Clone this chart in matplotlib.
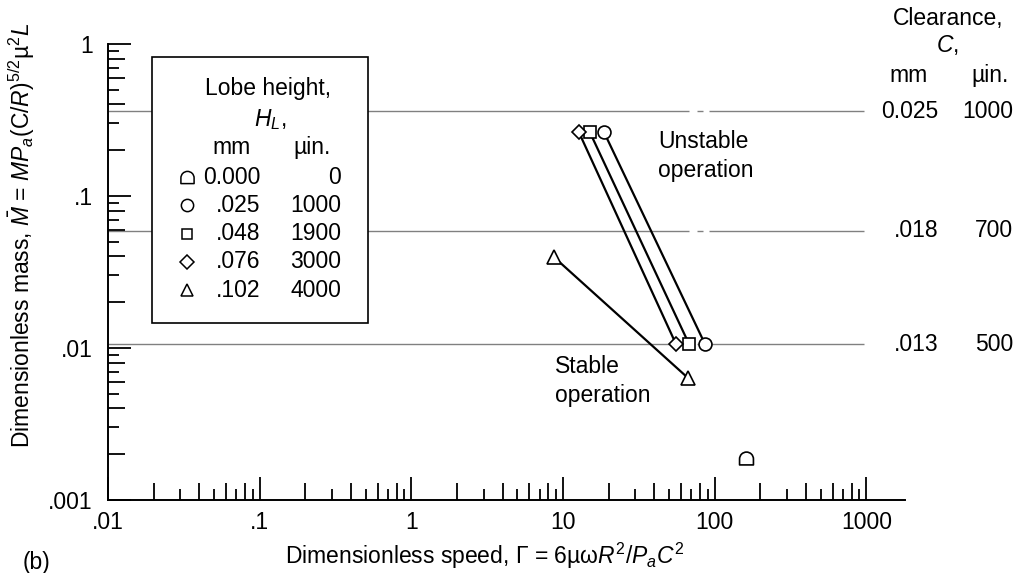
import numpy as np
import matplotlib
matplotlib.use("Agg")
import matplotlib.pyplot as plt
import matplotlib.transforms as mtransforms
from matplotlib.path import Path
from matplotlib.patches import Rectangle
from matplotlib.ticker import FixedLocator, FixedFormatter, NullFormatter

plt.rcParams['font.family'] = ['Liberation Sans', 'DejaVu Sans']
plt.rcParams['mathtext.fontset'] = 'custom'
plt.rcParams['mathtext.rm'] = 'Liberation Sans'
plt.rcParams['mathtext.it'] = 'Liberation Sans:italic'
plt.rcParams['font.size'] = 16.5

# lobe height (legend rows)
lobe_mm = ['0.000', '.025', '.048', '.076', '.102']
lobe_uin = ['0', '1000', '1900', '3000', '4000']

# dimensionless speed / mass (unstable end, stable end)
speed_000 = [161]
mass_000 = [0.00189]
speed_025 = [18.6, 86.4]
mass_025 = [0.264, 0.0106]
speed_048 = [15.0, 67.8]
mass_048 = [0.264, 0.0106]
speed_076 = [12.7, 55.6]
mass_076 = [0.264, 0.0106]
speed_102 = [8.7, 66.7]
mass_102 = [0.0397, 0.00635]

# clearance reference lines
clear_mass = [0.362, 0.0589, 0.0106]
clear_mm = ['0.025', '.018', '.013']
clear_uin = ['1000', '700', '500']
line_ends = [0.01, 970]
line_break = [68, 76.6, 83.8, 92]

xticks = [0.01, 0.1, 1, 10, 100, 1000]
xlabels = ['.01', '.1', '1', '10', '100', '1000']
yticks = [0.001, 0.01, 0.1, 1]
ylabels = ['.001', '.01', '.1', '1']

# half circle marker (dome with flat bottom)
arc = Path.arc(0, 180)
c = -0.075
v = arc.vertices.copy()
v[:, 1] += c
verts = np.vstack([v, [[-1, c - 0.85], [1, c - 0.85], [1, c]]])
codes = list(arc.codes) + [Path.LINETO, Path.LINETO, Path.CLOSEPOLY]
half = Path(verts, codes)

series = [
    (speed_000, mass_000, half, 10),
    (speed_025, mass_025, 'o', 9.3),
    (speed_048, mass_048, 's', 8.0),
    (speed_076, mass_076, 'D', 7.0),
    (speed_102, mass_102, '^', 9.8),
]

fig = plt.figure(figsize=(10.23, 5.73), dpi=100)
ax = fig.add_axes([0.1056, 0.1274, 0.7791, 0.7958])
ax.set_xscale('log')
ax.set_yscale('log')
ax.set_xlim(0.01, 1800)
ax.set_ylim(0.001, 1)

# clearance lines with their little break
for m in clear_mass:
    ax.hlines([m] * 3, [line_ends[0], line_break[1], line_break[3]],
              [line_break[0], line_break[2], line_ends[1]],
              color='#808080', lw=1.0, zorder=1)

for xs, ys, mk, ms in series:
    ax.plot(xs, ys, color='black', lw=1.6, marker=mk, ms=ms, mfc='white',
            mec='black', mew=1.2, zorder=3, clip_on=False)

# ticks
ax.xaxis.set_major_locator(FixedLocator(xticks))
ax.xaxis.set_major_formatter(FixedFormatter(xlabels))
xminor = [k * 10.0 ** d for d in range(-2, 3) for k in range(2, 10)]
ax.xaxis.set_minor_locator(FixedLocator(xminor))
ax.xaxis.set_minor_formatter(NullFormatter())
ax.yaxis.set_major_locator(FixedLocator(yticks))
ax.yaxis.set_major_formatter(FixedFormatter(ylabels))
yminor = [k * 10.0 ** d for d in range(-3, 0) for k in range(2, 10)]
ax.yaxis.set_minor_locator(FixedLocator(yminor))
ax.yaxis.set_minor_formatter(NullFormatter())

ax.tick_params(which='major', direction='in', length=16.5, width=1.3,
               top=False, right=False)
ax.tick_params(which='minor', direction='in', length=8, width=1.3,
               top=False, right=False)
ax.tick_params(axis='x', which='major', pad=8)
ax.tick_params(axis='y', which='major', pad=11)

# even multiples get a medium tick
for axis, locs in ((ax.xaxis, xminor), (ax.yaxis, yminor)):
    ticks = axis.get_minor_ticks(len(locs))
    for i, t in enumerate(ticks):
        if (2 + i % 8) % 2 == 0:
            t.tick1line.set_markersize(12.2)

for s in ('top', 'right'):
    ax.spines[s].set_visible(False)
for s in ('left', 'bottom'):
    ax.spines[s].set_linewidth(1.4)

ax.set_xlabel('Dimensionless speed, Γ = 6µω$R^2$/$P_aC^2$')
ax.xaxis.set_label_coords(0.473, -0.122)
ax.xaxis.label.set_va('center')
ax.set_ylabel('Dimensionless mass, $\\bar{M}$ = $MP_a$(C/$R$)$^{5/2}$µ$^2$$L$')
ax.yaxis.set_label_coords(-0.108, 0.581)
ax.yaxis.label.set_va('center')

# legend box
ax.add_patch(Rectangle((0.0552, 0.388), 0.271, 0.5835, transform=ax.transAxes,
                       facecolor='white', edgecolor='black', lw=1.2, zorder=4))
ax.text(0.2008, 0.9035, 'Lobe height,', transform=ax.transAxes, ha='center',
        va='center', zorder=5)
ax.text(0.203, 0.835, '$H_L$,', transform=ax.transAxes, ha='center',
        va='center', zorder=5)
ax.text(0.1556, 0.774, 'mm', transform=ax.transAxes, ha='center',
        va='center', zorder=5)
ax.text(0.256, 0.774, 'µin.', transform=ax.transAxes, ha='center',
        va='center', zorder=5)
for i, (xs, ys, mk, ms) in enumerate(series):
    ry = (500 - (177 + i * 28.3)) / 456
    ax.plot([0.0991], [ry], transform=ax.transAxes, marker=mk, ms=ms * 0.95,
            mfc='white', mec='black', mew=1.1, ls='none', zorder=5,
            clip_on=False)
    ax.text(0.1907, ry, lobe_mm[i], transform=ax.transAxes, ha='right',
            va='center', zorder=5)
    ax.text(0.2923, ry, lobe_uin[i], transform=ax.transAxes, ha='right',
            va='center', zorder=5)

ax.text(0.690, 0.754, 'Unstable\noperation', transform=ax.transAxes,
        ha='left', va='center', linespacing=1.3)
ax.text(0.561, 0.261, 'Stable\noperation', transform=ax.transAxes,
        ha='left', va='center', linespacing=1.3)

# clearance labels on the right
ax.text(1.054, 1.056, 'Clearance,', transform=ax.transAxes, ha='center',
        va='center', clip_on=False)
ax.text(1.053, 0.998, '$C$,', transform=ax.transAxes, ha='center',
        va='center', clip_on=False)
ax.text(1.005, 0.932, 'mm', transform=ax.transAxes, ha='center',
        va='center', clip_on=False)
ax.text(1.107, 0.932, 'µin.', transform=ax.transAxes, ha='center',
        va='center', clip_on=False)
blend = mtransforms.blended_transform_factory(ax.transAxes, ax.transData)
for m, mm, ui in zip(clear_mass, clear_mm, clear_uin):
    ax.text(1.0414, m, mm, transform=blend, ha='right', va='center',
            clip_on=False)
    ax.text(1.1355, m, ui, transform=blend, ha='right', va='center',
            clip_on=False)

fig.text(0.036, 0.019, '(b)', ha='center', va='center')

fig.savefig('out.png', dpi=100)
